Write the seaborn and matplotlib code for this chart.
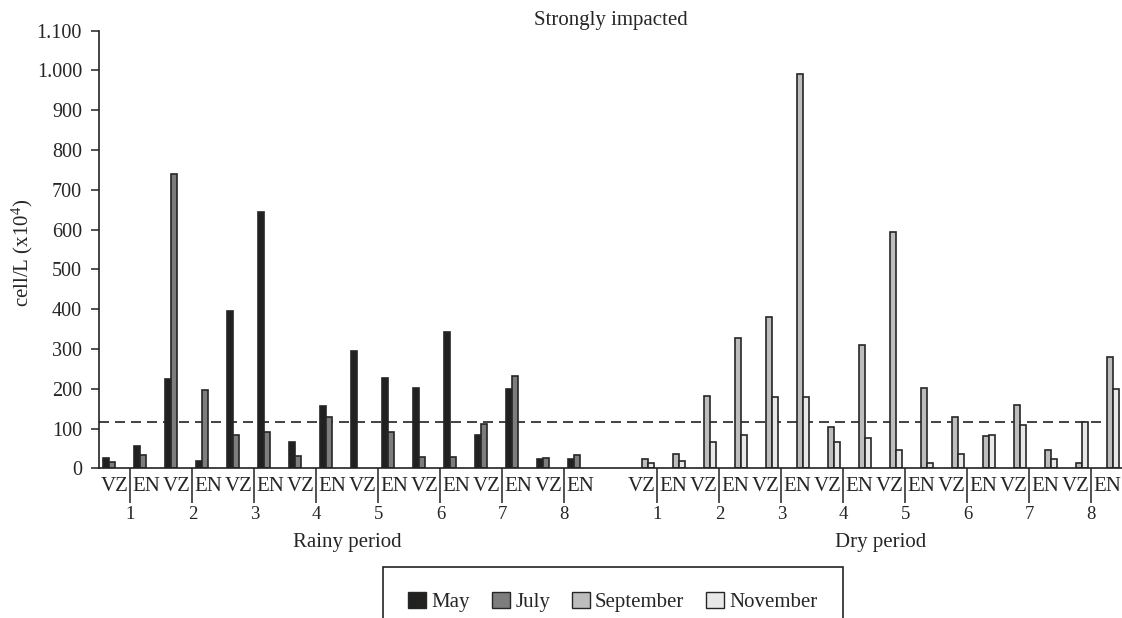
import matplotlib
matplotlib.use('Agg')
import matplotlib.pyplot as plt
import matplotlib.ticker as mticker
import seaborn as sns
import numpy as np
import pandas as pd

# values, cell/L (x10^4)
sites = ['1', '2', '3', '4', '5', '6', '7', '8']
stations = ['VZ', 'EN']
months = ['May', 'July', 'September', 'November']
month_colors = ['#231f20', '#7d7d7d', '#bdbdbd', '#e8e8e8']

# rainy period: VZ1, EN1, VZ2, EN2, ... VZ8, EN8
rainy_may = [27, 57, 224, 18, 395, 645, 65, 157, 296, 228, 203, 342, 84, 200, 23, 23]
rainy_july = [17, 34, 740, 198, 84, 90, 32, 130, None, 90, 28, 29, 112, 231, 26, 34]
# dry period
dry_sept = [23, 37, 182, 328, 381, 991, 104, 311, 594, 203, 129, 80, 159, 46, 14, 280]
dry_nov = [13, 18, 67, 83, 178, 179, 65, 77, 47, 13, 37, 84, 109, 24, 116, 199]

threshold = 117
y_ticks = list(range(0, 1101, 100))

# build long table
rainy_cats = [f'R{s}-{st}' for s in sites for st in stations]
dry_cats = [f'D{s}-{st}' for s in sites for st in stations]
order = rainy_cats + ['gap'] + dry_cats

rows = []
for cats, series in [(rainy_cats, {'May': rainy_may, 'July': rainy_july}),
                     (dry_cats, {'September': dry_sept, 'November': dry_nov})]:
    for month, vals in series.items():
        for c, v in zip(cats, vals):
            if v is not None:
                rows.append({'cat': c, 'month': month, 'value': v})
df = pd.DataFrame(rows)

sns.set_theme(style='white')
plt.rcParams['font.family'] = ['Liberation Serif', 'DejaVu Serif']
plt.rcParams['mathtext.fontset'] = 'custom'
plt.rcParams['mathtext.rm'] = 'Liberation Serif'
plt.rcParams['mathtext.it'] = 'Liberation Serif:italic'

W, H = 1122, 618
fig = plt.figure(figsize=(W / 100, H / 100), dpi=100)
ax = fig.add_axes([99.4 / W, 1 - 468.3 / H, (1122.4 - 99.4) / W, (468.3 - 30.7) / H])

sns.barplot(data=df, x='cat', y='value', hue='month', order=order,
            hue_order=months, palette=month_colors, errorbar=None,
            width=0.8, edgecolor='#262626', linewidth=1.2, ax=ax)

ax.axhline(threshold, color='#222222', lw=1.2, ls=(0, (6, 3.6)), zorder=0.5)

ax.set_xlim(-0.5, len(order) - 0.5)
ax.set_ylim(0, 1100)
ax.set_yticks(y_ticks)
ax.yaxis.set_major_formatter(mticker.FuncFormatter(lambda v, p: f'{int(v):,}'.replace(',', '.')))
ax.tick_params(axis='y', direction='out', length=5.5, width=1.1, color='#222222',
               labelsize=14.5, pad=7, left=True)

# station labels
major_pos = [i for i, c in enumerate(order) if c != 'gap']
major_lab = [order[i].split('-')[1] for i in major_pos]
ax.set_xticks(major_pos)
ax.set_xticklabels(major_lab, fontsize=15)
ax.tick_params(axis='x', which='major', length=0, pad=6)

# site numbers + divider lines as minor ticks
minor_pos = [i + 0.5 for i, c in enumerate(order) if c.endswith('VZ')]
ax.set_xticks(minor_pos, minor=True)
ax.set_xticklabels(sites + sites, minor=True, fontsize=13.5)
ax.tick_params(axis='x', which='minor', direction='out', length=25, width=1.1,
               color='#222222', pad=2.5, bottom=True)

ax.set_xlabel('')
ax.set_ylabel('')
for side in ['top', 'right']:
    ax.spines[side].set_visible(False)
for side in ['left', 'bottom']:
    ax.spines[side].set_color('#222222')
    ax.spines[side].set_linewidth(1.2)

trans = ax.get_xaxis_transform()
ax.text(7.5, -0.17, 'Rainy period', transform=trans, ha='center', va='center', fontsize=15)
ax.text(24.7, -0.17, 'Dry period', transform=trans, ha='center', va='center', fontsize=15)

fig.text(611 / W, 1 - 21 / H, 'Strongly impacted', ha='center', va='center', fontsize=15)
fig.text(22.5 / W, 1 - 253 / H, r'cell/L (x10$^{4}$)', rotation=90,
         ha='center', va='center', fontsize=15)

leg = ax.get_legend()
handles = leg.legend_handles
labels = [t.get_text() for t in leg.get_texts()]
leg.remove()
for h in handles:
    h.set_edgecolor('#262626')
    h.set_linewidth(1.0)
fig.legend(handles, labels, loc='upper left', bbox_to_anchor=(383.3 / W, 1 - 567 / H),
           ncol=4, fontsize=15, frameon=True, fancybox=False, shadow=False,
           edgecolor='#222222', framealpha=1, borderpad=1.2, borderaxespad=0,
           handlelength=0.87, handleheight=0.82, handletextpad=0.25,
           columnspacing=1.04)
fig.legends[0].get_frame().set_linewidth(1.2)

fig.savefig('out.png', dpi=100)
